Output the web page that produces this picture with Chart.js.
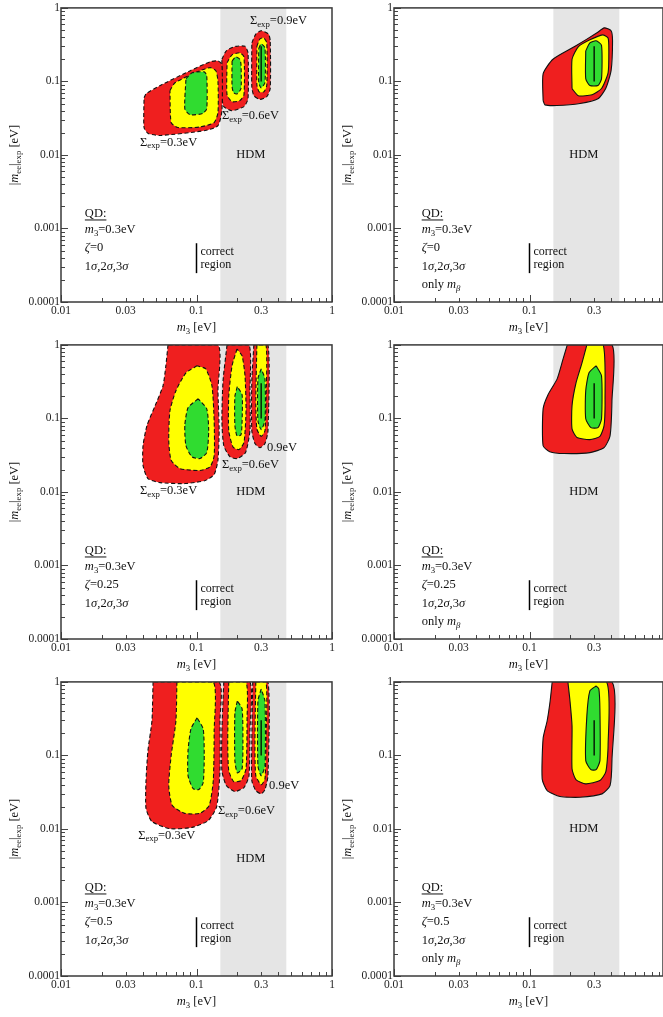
<!DOCTYPE html>
<html>
<head>
<meta charset="utf-8">
<script src="https://cdn.jsdelivr.net/npm/chart.js@4"></script>
<style>
  body { margin: 0; background: #fff; width: 663px; height: 1017px; overflow: hidden; position: relative; }
  canvas { position: absolute; }
</style>
</head>
<body>
<canvas id="c0" width="340" height="337" style="left:0;top:0"></canvas>
<canvas id="c1" width="330" height="337" style="left:333px;top:0"></canvas>
<canvas id="c2" width="340" height="337" style="left:0;top:337px"></canvas>
<canvas id="c3" width="330" height="337" style="left:333px;top:337px"></canvas>
<canvas id="c4" width="340" height="337" style="left:0;top:674px"></canvas>
<canvas id="c5" width="330" height="337" style="left:333px;top:674px"></canvas>
<script>
// axis ticks
const xTickValues = [0.01,0.02,0.03,0.04,0.05,0.06,0.07,0.08,0.09,0.1,0.2,0.3,0.4,0.5,0.6,0.7,0.8,0.9,1];
const xTickLabels = ['0.01','0.03','0.1','0.3','1'];
const yTickValues = [0.0001,0.0002,0.0003,0.0004,0.0005,0.0006,0.0007,0.0008,0.0009,
  0.001,0.002,0.003,0.004,0.005,0.006,0.007,0.008,0.009,
  0.01,0.02,0.03,0.04,0.05,0.06,0.07,0.08,0.09,
  0.1,0.2,0.3,0.4,0.5,0.6,0.7,0.8,0.9,1];
const yTickLabels = ['0.0001','0.001','0.01','0.1','1'];

// HDM band (m3 range) and true-value line
const hdmRange = [0.15, 0.46];
const trueLineX = [0.3, 0.3];
const trueLineY = [0.1, 0.3];

// contours [m3, |mee|exp] : 3 sigma (red), 2 sigma (yellow), 1 sigma (green)
// zeta = 0, all observables
const z0_s03_3s = [[0.041,0.060],[0.0425,0.068],[0.054,0.088],[0.090,0.14],[0.126,0.185],[0.144,0.19],[0.154,0.17],[0.154,0.040],[0.144,0.025],[0.116,0.0215],[0.054,0.0184],[0.044,0.0196],[0.041,0.0236],[0.041,0.060]];
const z0_s03_2s = [[0.0637,0.075],[0.0694,0.096],[0.106,0.14],[0.126,0.154],[0.139,0.14],[0.144,0.10],[0.144,0.0377],[0.135,0.0276],[0.106,0.024],[0.073,0.0236],[0.065,0.0276],[0.0637,0.075]];
const z0_s03_1s = [[0.0836,0.109],[0.093,0.131],[0.114,0.135],[0.119,0.12],[0.119,0.0425],[0.111,0.0366],[0.0895,0.0353],[0.082,0.0425],[0.0836,0.109]];
const z0_s06_3s = [[0.154,0.20],[0.166,0.261],[0.195,0.30],[0.228,0.30],[0.24,0.245],[0.24,0.058],[0.224,0.0455],[0.182,0.040],[0.159,0.0455],[0.154,0.062],[0.154,0.20]];
const z0_s06_2s = [[0.168,0.18],[0.183,0.23],[0.209,0.245],[0.224,0.216],[0.224,0.066],[0.209,0.055],[0.183,0.053],[0.168,0.066],[0.168,0.18]];
const z0_s06_1s = [[0.183,0.19],[0.195,0.216],[0.209,0.20],[0.213,0.17],[0.213,0.08],[0.20,0.068],[0.188,0.07],[0.183,0.085],[0.183,0.19]];
const z0_s09_3s = [[0.256,0.335],[0.274,0.44],[0.30,0.49],[0.34,0.44],[0.35,0.357],[0.35,0.08],[0.33,0.062],[0.294,0.057],[0.265,0.064],[0.256,0.085],[0.256,0.335]];
const z0_s09_2s = [[0.279,0.30],[0.294,0.38],[0.314,0.39],[0.33,0.335],[0.33,0.088],[0.314,0.072],[0.29,0.072],[0.279,0.09],[0.279,0.30]];
const z0_s09_1s = [[0.288,0.28],[0.30,0.325],[0.32,0.287],[0.32,0.096],[0.30,0.082],[0.288,0.096],[0.288,0.28]];
// zeta = 0, only m_beta
const z0mb_3s = [[0.126,0.055],[0.126,0.127],[0.149,0.20],[0.217,0.30],[0.315,0.458],[0.356,0.535],[0.40,0.49],[0.41,0.357],[0.40,0.14],[0.365,0.08],[0.32,0.058],[0.236,0.050],[0.159,0.047],[0.13,0.048],[0.126,0.055]];
const z0mb_2s = [[0.206,0.08],[0.206,0.20],[0.229,0.296],[0.279,0.368],[0.346,0.43],[0.38,0.39],[0.385,0.26],[0.38,0.131],[0.34,0.08],[0.29,0.066],[0.229,0.064],[0.206,0.08]];
const z0mb_1s = [[0.26,0.26],[0.279,0.335],[0.31,0.357],[0.34,0.31],[0.34,0.109],[0.32,0.088],[0.279,0.088],[0.26,0.109],[0.26,0.26]];
// zeta = 0.25
const z025_s03_3s = [[0.0616,1],[0.0594,0.52],[0.0566,0.278],[0.0495,0.149],[0.0431,0.08],[0.0403,0.0425],[0.0403,0.023],[0.0438,0.0152],[0.0538,0.0134],[0.0822,0.013],[0.116,0.0143],[0.135,0.0173],[0.144,0.027],[0.147,0.068],[0.144,0.238],[0.144,1],[0.0616,1]];
const z025_s03_2s = [[0.101,0.52],[0.0836,0.417],[0.0705,0.238],[0.0637,0.127],[0.0624,0.050],[0.065,0.027],[0.0755,0.0208],[0.106,0.0196],[0.126,0.022],[0.135,0.031],[0.135,0.093],[0.13,0.278],[0.117,0.472],[0.101,0.52]];
const z025_s03_1s = [[0.103,0.185],[0.0866,0.14],[0.082,0.08],[0.0836,0.0425],[0.0927,0.030],[0.106,0.0285],[0.119,0.0343],[0.123,0.068],[0.119,0.135],[0.103,0.185]];
const z025_s06_3s = [[0.168,1],[0.157,0.325],[0.154,0.093],[0.159,0.0425],[0.177,0.030],[0.20,0.0285],[0.23,0.0343],[0.248,0.068],[0.248,0.238],[0.244,1],[0.168,1]];
const z025_s06_2s = [[0.199,0.88],[0.183,0.52],[0.173,0.20],[0.173,0.068],[0.186,0.041],[0.206,0.0377],[0.224,0.047],[0.232,0.127],[0.228,0.38],[0.217,0.71],[0.199,0.88]];
const z025_s06_1s = [[0.20,0.27],[0.192,0.20],[0.192,0.08],[0.199,0.058],[0.213,0.06],[0.217,0.093],[0.217,0.21],[0.20,0.27]];
const z025_s09_3s = [[0.265,1],[0.256,0.325],[0.256,0.068],[0.27,0.0455],[0.294,0.040],[0.32,0.0455],[0.337,0.068],[0.337,1],[0.265,1]];
const z025_s09_2s = [[0.279,1],[0.274,0.174],[0.279,0.072],[0.30,0.057],[0.32,0.068],[0.326,0.174],[0.326,1],[0.279,1]];
const z025_s09_1s = [[0.30,0.472],[0.284,0.345],[0.284,0.093],[0.30,0.0704],[0.32,0.093],[0.32,0.345],[0.30,0.472]];
const z025mb_3s = [[0.19,1],[0.177,0.646],[0.16,0.345],[0.137,0.21],[0.126,0.135],[0.126,0.0425],[0.141,0.0353],[0.18,0.0333],[0.279,0.0343],[0.355,0.040],[0.393,0.058],[0.406,0.174],[0.406,1],[0.19,1]];
const z025mb_2s = [[0.265,1],[0.244,0.57],[0.22,0.30],[0.206,0.149],[0.206,0.072],[0.224,0.055],[0.279,0.0515],[0.331,0.057],[0.355,0.08],[0.361,0.174],[0.35,1],[0.265,1]];
const z025mb_1s = [[0.31,0.52],[0.275,0.417],[0.26,0.238],[0.26,0.099],[0.284,0.075],[0.32,0.075],[0.34,0.099],[0.34,0.38],[0.31,0.52]];
// zeta = 0.5
const z05_s03_3s = [[0.0478,1],[0.0469,0.296],[0.0438,0.116],[0.0424,0.0455],[0.0424,0.019],[0.0469,0.0126],[0.0637,0.0101],[0.0927,0.0105],[0.122,0.013],[0.141,0.0202],[0.149,0.062],[0.149,0.296],[0.146,1],[0.0478,1]];
const z05_s03_2s = [[0.0717,1],[0.0705,0.296],[0.065,0.099],[0.0624,0.0389],[0.0663,0.0208],[0.082,0.0163],[0.106,0.0163],[0.124,0.0208],[0.133,0.0455],[0.135,0.216],[0.133,1],[0.0717,1]];
const z05_s03_1s = [[0.101,0.325],[0.091,0.23],[0.0866,0.116],[0.0866,0.053],[0.0944,0.0353],[0.104,0.0343],[0.112,0.0425],[0.114,0.099],[0.112,0.23],[0.101,0.325]];
const z05_s06_3s = [[0.159,1],[0.154,0.216],[0.154,0.062],[0.166,0.0389],[0.192,0.0323],[0.224,0.0366],[0.244,0.053],[0.248,0.216],[0.248,1],[0.159,1]];
const z05_s06_2s = [[0.173,1],[0.17,0.158],[0.173,0.062],[0.188,0.0441],[0.213,0.0455],[0.232,0.066],[0.236,0.296],[0.232,1],[0.173,1]];
const z05_s06_1s = [[0.20,0.55],[0.192,0.38],[0.192,0.085],[0.20,0.058],[0.217,0.066],[0.22,0.158],[0.217,0.43],[0.20,0.55]];
const z05_s09_3s = [[0.26,1],[0.256,0.158],[0.256,0.0455],[0.274,0.0333],[0.30,0.030],[0.32,0.0343],[0.337,0.053],[0.337,1],[0.26,1]];
const z05_s09_2s = [[0.274,1],[0.27,0.158],[0.274,0.053],[0.30,0.04],[0.32,0.048],[0.326,0.158],[0.326,1],[0.274,1]];
const z05_s09_1s = [[0.30,0.80],[0.284,0.55],[0.284,0.072],[0.30,0.053],[0.32,0.072],[0.32,0.55],[0.30,0.80]];
const z05mb_3s = [[0.147,1],[0.142,0.55],[0.135,0.296],[0.126,0.17],[0.124,0.048],[0.135,0.0333],[0.168,0.0276],[0.236,0.027],[0.343,0.030],[0.393,0.0389],[0.406,0.085],[0.406,1],[0.147,1]];
const z05mb_2s = [[0.192,1],[0.199,0.55],[0.206,0.253],[0.206,0.066],[0.22,0.047],[0.26,0.041],[0.331,0.0455],[0.366,0.06],[0.38,0.135],[0.37,1],[0.192,1]];
const z05mb_1s = [[0.31,0.88],[0.279,0.755],[0.265,0.345],[0.26,0.085],[0.284,0.064],[0.31,0.064],[0.331,0.085],[0.331,0.405],[0.325,0.80],[0.31,0.88]];

const FONT = '"Liberation Serif", "Times New Roman", serif';
const RED = '#ef1f1f', YELLOW = '#ffff00', GREEN = '#30dc30', HDM_GREY = '#e5e5e5';

const sig = (v) => [['Σ','n'],['exp','s'],['=' + v + 'eV','n']];

const panels = [
  { id:'c0', full:true, zeta:'0', hdmY:0.01,
    clusters:[[z0_s03_3s,z0_s03_2s,z0_s03_1s],[z0_s06_3s,z0_s06_2s,z0_s06_1s],[z0_s09_3s,z0_s09_2s,z0_s09_1s]],
    notes:[{x:0.248,y:0.667,t:sig('0.9')},{x:0.154,y:0.0343,t:sig('0.6')},{x:0.0383,y:0.0148,t:sig('0.3')}] },
  { id:'c1', full:false, zeta:'0', hdmY:0.01, clusters:[[z0mb_3s,z0mb_2s,z0mb_1s]], notes:[] },
  { id:'c2', full:true, zeta:'0.25', hdmY:0.01,
    clusters:[[z025_s03_3s,z025_s03_2s,z025_s03_1s],[z025_s06_3s,z025_s06_2s,z025_s06_1s],[z025_s09_3s,z025_s09_2s,z025_s09_1s]],
    notes:[{x:0.331,y:0.040,t:[['0.9eV','n']]},{x:0.154,y:0.0236,t:sig('0.6')},{x:0.0383,y:0.0104,t:sig('0.3')}] },
  { id:'c3', full:false, zeta:'0.25', hdmY:0.01, clusters:[[z025mb_3s,z025mb_2s,z025mb_1s]], notes:[] },
  { id:'c4', full:true, zeta:'0.5', hdmY:0.0039,
    clusters:[[z05_s03_3s,z05_s03_2s,z05_s03_1s],[z05_s06_3s,z05_s06_2s,z05_s06_1s],[z05_s09_3s,z05_s09_2s,z05_s09_1s]],
    notes:[{x:0.343,y:0.039,t:[['0.9eV','n']]},{x:0.144,y:0.0178,t:sig('0.6')},{x:0.0371,y:0.0082,t:sig('0.3')}] },
  { id:'c5', full:false, zeta:'0.5', hdmY:0.01, clusters:[[z05mb_3s,z05mb_2s,z05mb_1s]], notes:[] }
];

// draws a run of text pieces: n normal, i italic, s subscript, si italic subscript
function rich(ctx, parts, x, y, size, measureOnly) {
  let cx = x;
  for (const [t, st] of parts) {
    const sub = st.includes('s'), it = st.includes('i');
    const fs = sub ? size * 0.7 : size;
    ctx.font = (it ? 'italic ' : '') + fs + 'px ' + FONT;
    if (!measureOnly) ctx.fillText(t, cx, y + (sub ? size * 0.3 : 0));
    cx += ctx.measureText(t).width;
  }
  return cx - x;
}

function labelFor(list, v) {
  const s = list.find(l => Math.abs(parseFloat(l) / v - 1) < 1e-6);
  return s === undefined ? '' : s;
}

function contour(pts, color, dashed, order) {
  return {
    data: pts.map(([x, y]) => ({x, y})),
    showLine: true, fill: 'shape', backgroundColor: color,
    borderColor: '#111', borderWidth: 1.1, borderDash: dashed ? [4, 2.5] : [],
    pointRadius: 0, tension: 0.2, order
  };
}

function makeChart(p) {
  const ds = [];
  p.clusters.forEach(c => {
    ds.push(contour(c[0], RED, p.full, 3));
    ds.push(contour(c[1], YELLOW, p.full, 2));
    ds.push(contour(c[2], GREEN, p.full, 1));
  });
  ds.push({ data: trueLineX.map((x, i) => ({x, y: trueLineY[i]})), showLine: true, fill: false,
    borderColor: '#000', borderWidth: 1.3, pointRadius: 0, order: 0 });

  const info = [[['QD:','n']], [['m','i'],['3','s'],['=0.3eV','n']], [['ζ','i'],['=' + p.zeta,'n']],
    [['1','n'],['σ','i'],[',2','n'],['σ','i'],[',3','n'],['σ','i']]];
  if (!p.full) info.push([['only ','n'],['m','i'],['β','si']]);
  const infoY = [0.0016, 0.00095, 0.00054, 0.0003, 0.00017];
  const infoX = p.full ? 0.015 : 0.016;

  const deco = {
    id: 'deco',
    beforeDatasetsDraw(chart) {
      const {ctx, chartArea: a, scales: {x}} = chart;
      ctx.save();
      ctx.fillStyle = HDM_GREY;
      const x0 = x.getPixelForValue(hdmRange[0]), x1 = x.getPixelForValue(hdmRange[1]);
      ctx.fillRect(x0, a.top, x1 - x0, a.bottom - a.top);
      ctx.restore();
    },
    afterDatasetsDraw(chart) {
      const {ctx, scales: {x, y}} = chart;
      ctx.save();
      ctx.fillStyle = '#111';
      ctx.textBaseline = 'middle';
      ctx.textAlign = 'left';
      // HDM
      ctx.font = '12.5px ' + FONT;
      const hw = ctx.measureText('HDM').width;
      ctx.fillText('HDM', x.getPixelForValue(0.252) - hw / 2, y.getPixelForValue(p.hdmY));
      // cluster labels
      p.notes.forEach(n => rich(ctx, n.t, x.getPixelForValue(n.x), y.getPixelForValue(n.y), 12.5));
      // info block
      const ix = x.getPixelForValue(infoX);
      info.forEach((line, i) => {
        const yy = y.getPixelForValue(infoY[i]);
        const w = rich(ctx, line, ix, yy, 12.5);
        if (i === 0) {
          ctx.fillRect(ix, yy + 6, w, 1);
        }
      });
      // correct region marker
      const cx = x.getPixelForValue(0.1);
      ctx.strokeStyle = '#000';
      ctx.lineWidth = 1.5;
      ctx.beginPath();
      ctx.moveTo(cx, y.getPixelForValue(0.00063));
      ctx.lineTo(cx, y.getPixelForValue(0.000247));
      ctx.stroke();
      ctx.font = '12px ' + FONT;
      ctx.fillText('correct', cx + 4, y.getPixelForValue(0.00048));
      ctx.fillText('region', cx + 4, y.getPixelForValue(0.00032));
      ctx.restore();
    },
    afterDraw(chart) {
      const {ctx, chartArea: a, scales: {x, y}} = chart;
      ctx.save();
      ctx.strokeStyle = '#444';
      ctx.lineWidth = 1;
      ctx.beginPath();
      x.ticks.forEach(t => {
        const px = Math.round(x.getPixelForValue(t.value)) + 0.5;
        const len = Number.isInteger(Math.round(Math.log10(t.value) * 1e6) / 1e6) ? 7 : 4;
        ctx.moveTo(px, a.bottom);
        ctx.lineTo(px, a.bottom - len);
      });
      y.ticks.forEach(t => {
        const py = Math.round(y.getPixelForValue(t.value)) + 0.5;
        const len = Number.isInteger(Math.round(Math.log10(t.value) * 1e6) / 1e6) ? 7 : 4;
        ctx.moveTo(a.left, py);
        ctx.lineTo(a.left + len, py);
      });
      ctx.stroke();
      ctx.strokeStyle = '#3a3a3a';
      ctx.lineWidth = 1.5;
      ctx.strokeRect(a.left, a.top, a.right - a.left, a.bottom - a.top);
      // axis titles
      ctx.fillStyle = '#111';
      ctx.textBaseline = 'middle';
      const xt = [['m','i'],['3','s'],[' [eV]','n']];
      const wx = rich(ctx, xt, 0, 0, 12.5, true);
      rich(ctx, xt, (a.left + a.right) / 2 - wx / 2, a.bottom + 26, 12.5);
      const yt = [['|','n'],['m','i'],['ee','s'],['|','n'],['exp','s'],[' [eV]','n']];
      const wy = rich(ctx, yt, 0, 0, 12.5, true);
      ctx.translate(15, (a.top + a.bottom) / 2);
      ctx.rotate(-Math.PI / 2);
      rich(ctx, yt, -wy / 2, 0, 12.5);
      ctx.restore();
    }
  };

  const tickFont = {family: FONT, size: 11.5};
  new Chart(document.getElementById(p.id), {
    type: 'scatter',
    data: {datasets: ds},
    options: {
      responsive: false,
      animation: false,
      events: [],
      layout: {padding: {top: 7, right: p.full ? 8 : 0, left: 0, bottom: 0}},
      plugins: {legend: {display: false}, tooltip: {enabled: false}},
      scales: {
        x: {
          type: 'logarithmic', min: 0.01, max: p.full ? 1 : 0.9665,
          afterBuildTicks: s => { s.ticks = xTickValues.filter(v => v <= s.max * 1.0001).map(v => ({value: v})); },
          afterFit: s => { s.height = 35; },
          grid: {display: false, drawTicks: false}, border: {display: false},
          ticks: {autoSkip: false, maxRotation: 0, padding: 2, color: '#222', font: tickFont,
            callback: v => labelFor(xTickLabels, v)}
        },
        y: {
          type: 'logarithmic', min: 0.0001, max: 1,
          afterBuildTicks: s => { s.ticks = yTickValues.map(v => ({value: v})); },
          afterFit: s => { s.width = 61; },
          grid: {display: false, drawTicks: false}, border: {display: false},
          ticks: {autoSkip: false, padding: 1, color: '#222', font: tickFont,
            callback: v => labelFor(yTickLabels, v)}
        }
      }
    },
    plugins: [deco]
  });
}

panels.forEach(makeChart);
</script>
</body>
</html>
